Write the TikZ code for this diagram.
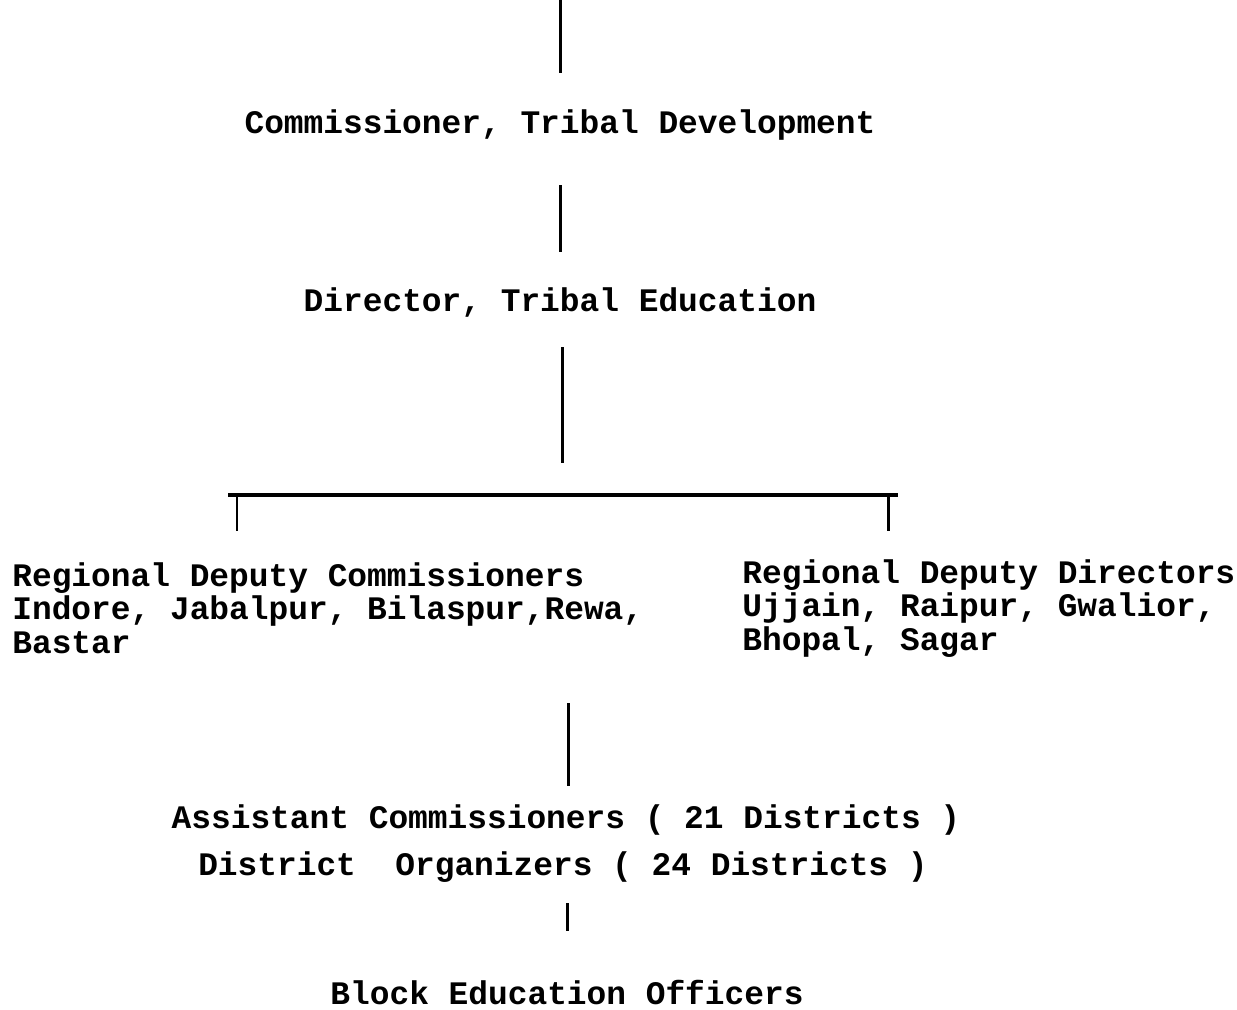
\documentclass[tikz,border=0pt]{standalone}
\usepackage{fontspec}
\setmonofont{Liberation Mono}
\usetikzlibrary{positioning}

\begin{document}
\begin{tikzpicture}[x=0.02cm,y=-0.02cm,
  every node/.style={font=\ttfamily\bfseries\fontsize{18.7}{18.8}\selectfont,inner sep=0pt},
  post/.style={anchor=base,text height=11.2pt,text depth=3.8pt},
  region/.style={anchor=base west,align=left},
  link/.style={line width=1.7pt}]
\useasboundingbox (0,0) rectangle (1237,1009);
% offices, top to bottom
\coordinate (top) at (560,0);
\node[post] (comm) at (560,133) {Commissioner, Tribal Development};
\node[post] (dir) at (560,311) {Director, Tribal Education};
\coordinate (split) at (562,495);
\coordinate (barw) at (228,495);
\coordinate (bare) at (898,495);
\coordinate (tickw) at (237,495);
\coordinate (ticke) at (888,495);
\node[region] (rdc) at (12,653) {Regional Deputy Commissioners\\Indore, Jabalpur, Bilaspur,Rewa,\\Bastar};
\node[region] (rdd) at (742,650) {Regional Deputy Directors\\Ujjain, Raipur, Gwalior,\\Bhopal, Sagar};
\coordinate (regbot) at (568,703);
\node[post] (asst) at (566,828) {Assistant Commissioners ( 21 Districts )};
\node[post] (dist) at (563,875) {District~ Organizers ( 24 Districts )};
\node[post] (blk) at (567,1004) {Block Education Officers};
% connectors
\draw[link,shorten >=22.9pt] (top) -- (comm.north);
\draw[link,shorten <=25.8pt,shorten >=22.4pt] (comm.south) -- (dir.north);
\draw[link,shorten <=16.7pt,shorten >=18.2pt] (dir.south -| split) -- (split);
\draw[line width=1.9pt] (barw) -- (bare);
\draw[link,shorten >=18.2pt] (tickw) -- (tickw |- rdc.north);
\draw[link,shorten >=16.5pt] (ticke) -- (ticke |- rdd.north);
\draw[link,shorten >=12.7pt] (regbot) -- (regbot |- asst.north);
\draw[link,shorten <=12.2pt,shorten >=30.3pt] (dist.south -| blk.north) -- (blk.north);
\end{tikzpicture}
\end{document}
